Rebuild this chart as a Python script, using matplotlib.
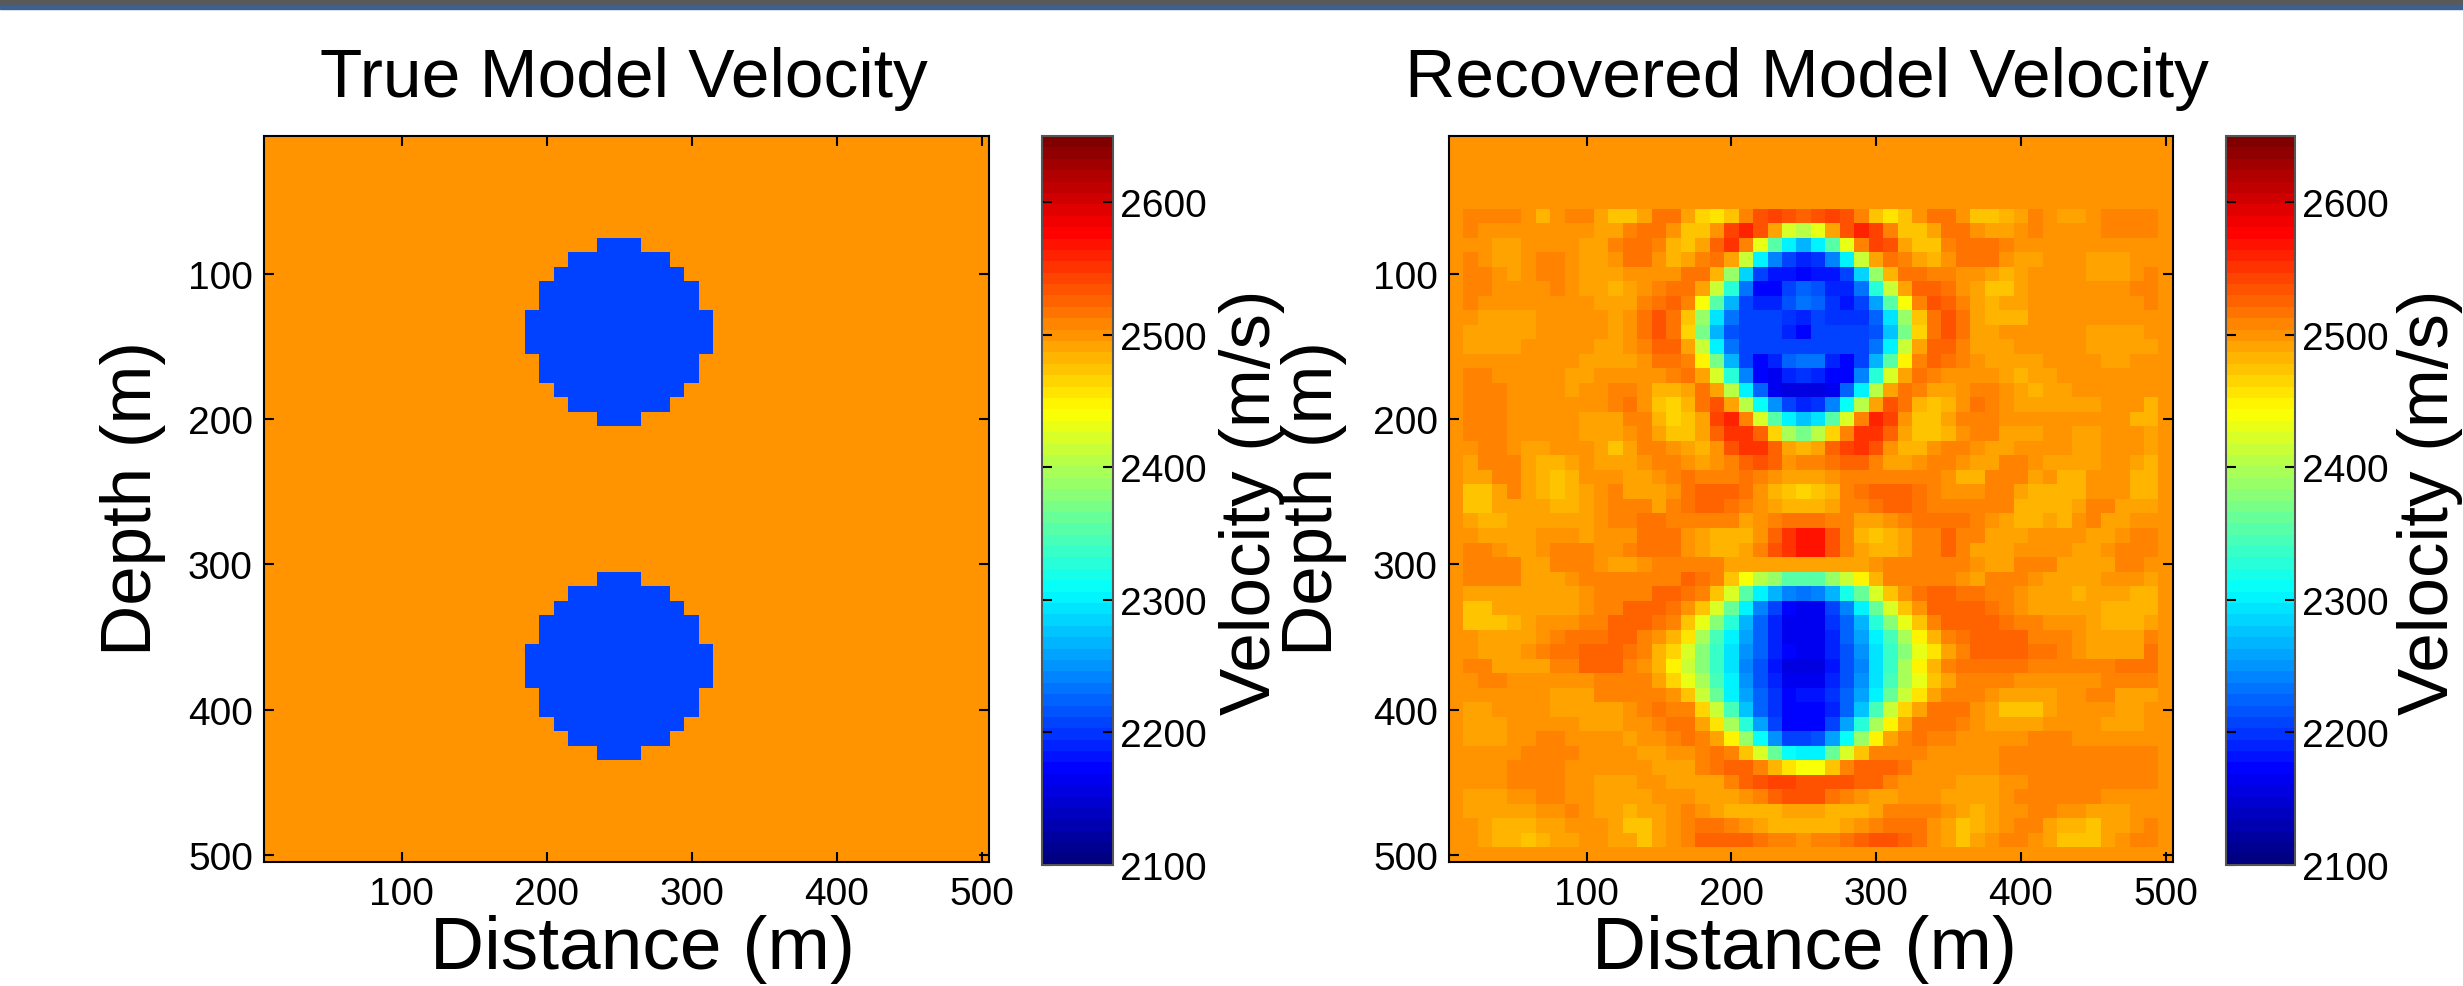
import numpy as np
import matplotlib
matplotlib.use('Agg')
import matplotlib.pyplot as plt
from matplotlib.colors import LinearSegmentedColormap
from matplotlib.patches import Rectangle

W, H = 2463, 987

ticks_xy = [100, 200, 300, 400, 500]
ticks_cb = [2100, 2200, 2300, 2400, 2500, 2600]
v_min, v_max = 2100, 2650

background = 2500
anomaly = 2205
n_cells = 50

# true model: depth of each row of a circle and its half width in cells
circle_1_depths = [80, 90, 100, 110, 120, 130, 140, 150, 160, 170, 180, 190, 200]
circle_2_depths = [310, 320, 330, 340, 350, 360, 370, 380, 390, 400, 410, 420, 430]
circle_half_width = [1, 3, 4, 5, 5, 6, 6, 6, 5, 5, 4, 3, 1]
circle_center = 250

# recovered model, rows, depth 60 to 480 (m/s)
recovered_rows = [
[2500,2508,2508,2508,2508,2500,2485,2500,2508,2508,2491,2473,2473,2495,2515,2515,2490,2465,2455,2475,2510,2530,2540,2532,2525,2530,2540,2530,2508,2472,2458,2470,2500,2518,2518,2497,2473,2473,2480,2495,2508,2500,2490,2490,2498,2508,2508,2508,2508,2500],
[2500,2508,2500,2500,2500,2500,2500,2500,2500,2500,2491,2495,2505,2515,2515,2500,2475,2475,2500,2540,2560,2535,2490,2425,2405,2430,2490,2535,2562,2540,2505,2475,2475,2495,2515,2515,2503,2490,2490,2497,2508,2500,2500,2500,2500,2508,2508,2508,2508,2500],
[2500,2500,2500,2491,2491,2500,2500,2500,2500,2490,2495,2505,2520,2520,2510,2485,2475,2490,2525,2548,2508,2430,2350,2300,2270,2300,2350,2430,2508,2545,2530,2490,2473,2478,2505,2520,2515,2515,2508,2500,2500,2500,2500,2500,2500,2500,2500,2500,2500,2500],
[2500,2508,2500,2491,2491,2500,2508,2508,2500,2491,2491,2500,2518,2518,2500,2485,2490,2505,2515,2488,2410,2300,2240,2205,2190,2200,2240,2300,2410,2490,2517,2508,2490,2480,2500,2515,2515,2515,2503,2490,2490,2500,2500,2500,2491,2491,2491,2500,2500,2500],
[2500,2508,2508,2500,2491,2500,2508,2508,2500,2491,2491,2491,2500,2500,2500,2500,2515,2515,2485,2390,2285,2205,2185,2180,2175,2185,2185,2205,2285,2390,2480,2515,2515,2510,2510,2497,2497,2490,2483,2490,2500,2500,2500,2500,2491,2491,2491,2500,2508,2500],
[2500,2508,2508,2500,2500,2500,2500,2508,2500,2491,2491,2480,2490,2500,2510,2520,2520,2495,2415,2325,2235,2175,2175,2210,2225,2220,2190,2190,2230,2325,2415,2495,2525,2525,2515,2497,2488,2478,2478,2490,2500,2500,2500,2500,2500,2500,2500,2508,2508,2500],
[2500,2508,2500,2500,2500,2500,2500,2500,2500,2500,2490,2490,2490,2505,2518,2528,2505,2440,2355,2270,2205,2190,2190,2220,2235,2225,2195,2185,2210,2260,2355,2440,2510,2530,2525,2505,2488,2480,2490,2490,2500,2500,2500,2500,2500,2500,2500,2500,2508,2500],
[2500,2503,2491,2491,2491,2491,2500,2500,2500,2500,2500,2491,2503,2515,2530,2518,2478,2390,2295,2235,2205,2205,2205,2200,2190,2205,2195,2195,2200,2225,2295,2390,2475,2520,2538,2515,2491,2485,2485,2485,2500,2500,2500,2500,2500,2500,2500,2500,2500,2500],
[2500,2491,2491,2491,2491,2491,2500,2500,2500,2500,2500,2491,2503,2518,2535,2520,2465,2370,2270,2220,2205,2205,2205,2190,2170,2205,2205,2205,2205,2215,2275,2370,2465,2520,2538,2515,2491,2488,2500,2500,2500,2500,2500,2500,2491,2491,2491,2491,2500,2500],
[2500,2491,2491,2491,2491,2500,2500,2500,2500,2500,2491,2491,2503,2510,2525,2525,2488,2410,2300,2230,2205,2205,2205,2205,2205,2210,2205,2205,2205,2230,2300,2410,2490,2525,2525,2505,2495,2488,2488,2500,2500,2500,2500,2500,2491,2491,2491,2491,2491,2500],
[2500,2500,2500,2500,2500,2500,2500,2500,2500,2491,2491,2491,2491,2497,2520,2520,2510,2450,2370,2265,2205,2170,2190,2225,2235,2230,2190,2170,2205,2265,2350,2450,2508,2528,2518,2505,2497,2491,2491,2491,2491,2500,2500,2500,2500,2491,2491,2500,2500,2500],
[2500,2508,2508,2500,2500,2500,2500,2500,2491,2491,2500,2500,2500,2500,2500,2505,2515,2490,2425,2330,2240,2175,2168,2190,2195,2190,2170,2175,2240,2330,2425,2490,2515,2508,2500,2500,2500,2500,2491,2480,2491,2491,2500,2500,2500,2500,2500,2500,2500,2500],
[2500,2508,2508,2508,2500,2500,2500,2500,2491,2500,2500,2508,2508,2500,2480,2480,2495,2515,2490,2405,2300,2225,2165,2160,2160,2160,2168,2225,2300,2405,2488,2518,2508,2488,2488,2500,2508,2508,2500,2491,2480,2491,2491,2500,2500,2500,2500,2500,2500,2500],
[2500,2508,2508,2508,2500,2500,2500,2500,2500,2500,2500,2508,2518,2500,2475,2465,2485,2515,2530,2490,2405,2310,2250,2205,2190,2200,2245,2310,2405,2495,2530,2515,2485,2470,2480,2500,2520,2508,2500,2491,2491,2491,2491,2491,2491,2500,2500,2500,2485,2500],
[2500,2508,2508,2508,2500,2500,2500,2500,2500,2491,2491,2495,2505,2505,2480,2462,2475,2495,2540,2560,2510,2425,2350,2300,2280,2295,2355,2425,2510,2556,2540,2497,2475,2475,2490,2505,2505,2505,2497,2497,2497,2497,2497,2497,2500,2500,2500,2485,2485,2500],
[2500,2508,2508,2508,2500,2500,2500,2500,2500,2491,2491,2491,2500,2505,2495,2478,2470,2490,2525,2555,2555,2525,2465,2400,2370,2405,2468,2510,2552,2550,2525,2490,2473,2473,2485,2500,2508,2508,2491,2491,2491,2500,2500,2491,2491,2500,2500,2500,2491,2500],
[2500,2500,2508,2508,2500,2491,2491,2500,2500,2500,2491,2475,2490,2505,2505,2500,2488,2480,2497,2530,2550,2550,2525,2488,2485,2490,2525,2545,2555,2530,2500,2480,2480,2497,2505,2505,2497,2491,2491,2500,2500,2500,2500,2491,2491,2500,2500,2500,2491,2500],
[2500,2491,2505,2505,2505,2491,2482,2482,2491,2500,2491,2491,2491,2497,2505,2505,2498,2488,2497,2508,2522,2530,2525,2503,2505,2505,2518,2528,2528,2505,2487,2487,2500,2508,2508,2497,2488,2488,2505,2505,2500,2491,2491,2491,2491,2500,2500,2491,2485,2500],
[2500,2491,2491,2505,2505,2491,2482,2470,2482,2500,2500,2500,2491,2491,2497,2505,2515,2510,2510,2510,2518,2508,2503,2495,2487,2495,2503,2510,2510,2510,2510,2510,2510,2510,2500,2482,2482,2505,2505,2505,2495,2497,2480,2480,2497,2500,2500,2480,2480,2500],
[2500,2478,2478,2491,2505,2491,2482,2470,2480,2491,2500,2508,2495,2495,2495,2503,2515,2522,2522,2522,2515,2497,2485,2478,2465,2472,2480,2505,2515,2525,2525,2525,2515,2505,2497,2497,2497,2510,2505,2487,2485,2485,2480,2480,2497,2500,2500,2480,2480,2500],
[2500,2478,2478,2491,2491,2491,2491,2480,2480,2491,2500,2508,2508,2508,2495,2505,2515,2525,2525,2515,2510,2497,2490,2485,2485,2482,2490,2505,2510,2518,2525,2525,2515,2508,2508,2508,2508,2508,2505,2482,2482,2482,2485,2495,2505,2505,2491,2491,2491,2500],
[2500,2491,2485,2485,2491,2491,2491,2491,2491,2491,2500,2508,2508,2515,2515,2508,2508,2508,2505,2505,2495,2500,2508,2518,2518,2520,2510,2505,2490,2490,2503,2508,2515,2515,2515,2515,2508,2497,2490,2483,2483,2490,2483,2500,2505,2491,2491,2497,2497,2500],
[2500,2503,2491,2491,2491,2491,2500,2500,2500,2488,2497,2497,2503,2515,2515,2515,2503,2488,2482,2482,2482,2498,2522,2550,2565,2565,2530,2505,2485,2470,2480,2488,2505,2512,2522,2510,2505,2495,2490,2490,2497,2497,2497,2497,2491,2491,2503,2510,2510,2500],
[2500,2510,2510,2497,2491,2491,2500,2508,2508,2508,2497,2497,2505,2515,2515,2515,2500,2488,2482,2482,2488,2505,2535,2555,2565,2565,2535,2505,2490,2480,2480,2488,2505,2512,2522,2510,2491,2491,2487,2500,2500,2500,2500,2491,2491,2497,2510,2510,2510,2500],
[2500,2510,2510,2505,2505,2491,2491,2505,2508,2508,2503,2488,2488,2497,2510,2510,2510,2510,2505,2495,2490,2490,2490,2490,2490,2490,2490,2490,2490,2497,2505,2510,2510,2510,2510,2510,2503,2491,2491,2510,2510,2505,2491,2491,2491,2491,2510,2510,2503,2500],
[2500,2505,2505,2505,2505,2491,2491,2491,2497,2505,2505,2505,2505,2505,2512,2512,2525,2518,2505,2478,2442,2405,2385,2355,2350,2355,2385,2410,2445,2480,2505,2510,2510,2510,2510,2503,2491,2505,2505,2505,2500,2491,2491,2491,2491,2497,2497,2497,2488,2500],
[2500,2488,2492,2492,2492,2492,2492,2492,2492,2500,2505,2512,2512,2512,2522,2522,2515,2505,2470,2420,2355,2305,2270,2245,2235,2245,2270,2315,2365,2425,2470,2503,2518,2525,2525,2520,2520,2508,2508,2497,2491,2491,2491,2480,2491,2491,2491,2482,2482,2500],
[2500,2478,2478,2488,2491,2491,2491,2491,2491,2500,2505,2512,2525,2525,2525,2515,2503,2470,2420,2365,2305,2245,2205,2172,2168,2168,2210,2245,2305,2365,2420,2472,2503,2522,2522,2522,2525,2515,2508,2500,2491,2491,2491,2491,2491,2482,2482,2482,2482,2500],
[2500,2475,2475,2475,2485,2491,2500,2500,2500,2505,2510,2525,2525,2525,2518,2512,2478,2430,2375,2325,2270,2225,2190,2168,2168,2168,2195,2225,2270,2325,2375,2430,2478,2510,2525,2525,2525,2525,2515,2508,2505,2497,2497,2497,2491,2482,2482,2482,2495,2500],
[2500,2497,2488,2488,2488,2491,2500,2508,2518,2518,2518,2525,2525,2508,2497,2485,2455,2400,2345,2300,2255,2225,2190,2165,2165,2165,2190,2225,2255,2300,2345,2400,2445,2483,2508,2518,2522,2522,2522,2522,2510,2505,2505,2497,2491,2491,2491,2495,2508,2500],
[2500,2500,2490,2490,2490,2497,2508,2515,2515,2528,2528,2528,2518,2508,2480,2462,2420,2380,2335,2295,2250,2225,2190,2170,2168,2168,2190,2220,2250,2295,2335,2380,2430,2460,2495,2508,2522,2522,2522,2522,2515,2515,2508,2500,2491,2491,2491,2491,2515,2500],
[2500,2508,2508,2495,2495,2495,2495,2510,2510,2525,2525,2525,2510,2498,2482,2445,2410,2375,2335,2290,2245,2215,2180,2160,2160,2160,2180,2215,2245,2290,2340,2400,2445,2485,2505,2518,2518,2518,2518,2518,2508,2508,2508,2508,2508,2508,2518,2518,2518,2500],
[2500,2500,2510,2510,2500,2500,2500,2500,2500,2500,2505,2505,2505,2505,2490,2468,2435,2395,2345,2300,2250,2220,2190,2165,2165,2165,2190,2220,2250,2295,2345,2395,2430,2470,2495,2505,2505,2505,2505,2497,2497,2497,2497,2500,2500,2505,2505,2505,2505,2500],
[2500,2500,2500,2500,2500,2500,2500,2490,2490,2490,2505,2505,2512,2512,2512,2497,2470,2410,2360,2305,2255,2225,2195,2175,2178,2180,2195,2225,2255,2305,2360,2410,2460,2490,2505,2505,2505,2497,2491,2491,2491,2491,2500,2500,2508,2508,2495,2495,2495,2500],
[2500,2490,2490,2503,2503,2503,2503,2491,2491,2491,2491,2491,2500,2508,2518,2510,2510,2465,2410,2345,2280,2225,2195,2170,2170,2170,2190,2225,2280,2345,2410,2465,2495,2518,2518,2518,2500,2490,2478,2478,2478,2490,2500,2500,2500,2500,2490,2490,2500,2500],
[2500,2490,2490,2490,2500,2500,2500,2500,2500,2490,2490,2490,2500,2500,2510,2518,2518,2495,2455,2395,2325,2255,2205,2170,2172,2172,2205,2255,2325,2395,2445,2495,2518,2518,2518,2508,2497,2490,2490,2490,2490,2500,2500,2500,2500,2490,2490,2490,2500,2500],
[2500,2490,2490,2490,2500,2500,2508,2508,2500,2500,2500,2500,2490,2500,2500,2510,2518,2505,2490,2445,2385,2310,2250,2205,2205,2215,2255,2310,2385,2445,2495,2505,2518,2510,2510,2500,2500,2500,2500,2500,2508,2508,2508,2500,2500,2500,2500,2500,2500,2500],
[2500,2500,2500,2500,2500,2508,2508,2508,2508,2500,2500,2500,2500,2490,2490,2500,2500,2508,2518,2505,2475,2420,2360,2310,2300,2305,2360,2420,2472,2505,2512,2512,2512,2500,2500,2500,2500,2500,2508,2508,2508,2508,2508,2508,2508,2508,2508,2508,2508,2500],
[2500,2500,2500,2500,2508,2508,2508,2508,2500,2500,2500,2500,2500,2500,2490,2490,2490,2505,2518,2528,2522,2505,2480,2460,2440,2440,2478,2505,2522,2522,2522,2515,2500,2500,2500,2500,2500,2500,2505,2505,2505,2505,2505,2505,2505,2505,2505,2505,2505,2500],
[2500,2500,2500,2500,2508,2508,2508,2508,2500,2500,2490,2490,2490,2497,2497,2488,2488,2488,2495,2510,2525,2535,2542,2542,2530,2530,2530,2530,2522,2522,2505,2500,2500,2500,2500,2488,2488,2488,2500,2500,2505,2505,2505,2505,2505,2505,2505,2505,2505,2500],
[2500,2490,2490,2490,2503,2503,2510,2510,2503,2503,2490,2490,2490,2495,2503,2503,2503,2491,2491,2491,2497,2508,2525,2532,2532,2530,2518,2510,2503,2490,2490,2500,2500,2500,2491,2491,2491,2491,2500,2508,2508,2508,2508,2508,2508,2500,2500,2500,2500,2500],
[2500,2490,2490,2490,2490,2490,2503,2503,2512,2500,2491,2491,2480,2490,2490,2500,2508,2503,2495,2482,2482,2482,2482,2492,2492,2490,2480,2480,2480,2490,2505,2508,2508,2508,2500,2490,2480,2490,2503,2503,2508,2508,2500,2500,2488,2488,2488,2500,2500,2500],
[2500,2500,2491,2480,2480,2480,2495,2495,2503,2503,2503,2491,2478,2478,2490,2500,2508,2518,2518,2510,2503,2490,2480,2480,2480,2482,2482,2490,2503,2510,2520,2520,2520,2500,2488,2478,2485,2490,2500,2510,2510,2490,2485,2485,2478,2490,2490,2500,2510,2500],
[2500,2500,2491,2485,2485,2470,2482,2491,2491,2500,2500,2488,2488,2478,2490,2500,2510,2522,2522,2522,2522,2515,2508,2508,2500,2505,2505,2515,2522,2535,2535,2525,2518,2500,2488,2478,2490,2500,2510,2510,2500,2490,2478,2478,2478,2495,2500,2510,2510,2500],
]
first_recovered_row = 5


def true_model():
    m = np.full((n_cells, n_cells), background, dtype=float)
    cols = (np.arange(n_cells) + 1) * 10
    rows = (np.arange(n_cells) + 1) * 10
    for depths in (circle_1_depths, circle_2_depths):
        for d, hw in zip(depths, circle_half_width):
            i = np.where(rows == d)[0][0]
            m[i, np.abs(cols - circle_center) <= hw * 10] = anomaly
    return m


def recovered_model():
    m = np.full((n_cells, n_cells), background, dtype=float)
    m[first_recovered_row:first_recovered_row + len(recovered_rows)] = np.array(recovered_rows)
    return m


def box(l, t, r, b):
    return [l / W, 1 - b / H, (r - l) / W, (b - t) / H]


def put(x, y, s, size, rot=0):
    plt.figtext(x / W, 1 - y / H, s, fontsize=size, rotation=rot, ha='center', va='center')


def panel(m, left, right, cb_left, cb_right, title, title_x, depth_x, vel_x, xlab_x):
    ax = plt.axes(box(left, 137, right, 863))
    im = ax.imshow(m, extent=(5, 505, 505, 5), cmap=jet64, vmin=v_min, vmax=v_max,
                   aspect='auto', interpolation='nearest')
    ax.set_xticks(ticks_xy)
    ax.set_yticks(ticks_xy)
    ax.tick_params(direction='in', length=7, width=1.5, top=True, right=True, labelsize=28, pad=8)
    ax.tick_params(axis='x', pad=10)
    for s in ax.spines.values():
        s.set_linewidth(1.5)

    cax = plt.axes(box(cb_left, 137, cb_right, 866))
    cb = plt.colorbar(im, cax=cax, ticks=ticks_cb)
    cb.outline.set_linewidth(1.5)
    cb.outline.set_edgecolor('#555555')
    cax.tick_params(direction='in', length=7, width=1.5, left=True, right=True, labelsize=28, pad=5)

    put(title_x, 79, title, 50)
    put(xlab_x, 950, 'Distance (m)', 54)
    put(depth_x, 499, 'Depth (m)', 51, 90)
    put(vel_x, 502, 'Velocity (m/s)', 51, 90)


jet64 = LinearSegmentedColormap.from_list('jet64', [
    (0, (0, 0, 0.5)), (1 / 8, (0, 0, 1)), (3 / 8, (0, 1, 1)),
    (5 / 8, (1, 1, 0)), (7 / 8, (1, 0, 0)), (1, (0.5, 0, 0))], N=64)

plt.rcParams['font.family'] = ['Liberation Sans', 'DejaVu Sans']

fig = plt.figure(figsize=(W / 100, H / 100), dpi=100)

# strip at the top of the slide
fig.add_artist(Rectangle((0, 1 - 6 / H), 1, 6 / H, transform=fig.transFigure, color='#595959'))
fig.add_artist(Rectangle((0, 1 - 10 / H), 1, 4 / H, transform=fig.transFigure, color='#3c6090'))

panel(true_model(), 264, 989, 1042, 1113, 'True Model Velocity', 624, 133, 1252, 642)
panel(recovered_model(), 1449, 2173, 2226, 2295, 'Recovered Model Velocity', 1807, 1314, 2430, 1805)

plt.savefig('out.png', dpi=100)
